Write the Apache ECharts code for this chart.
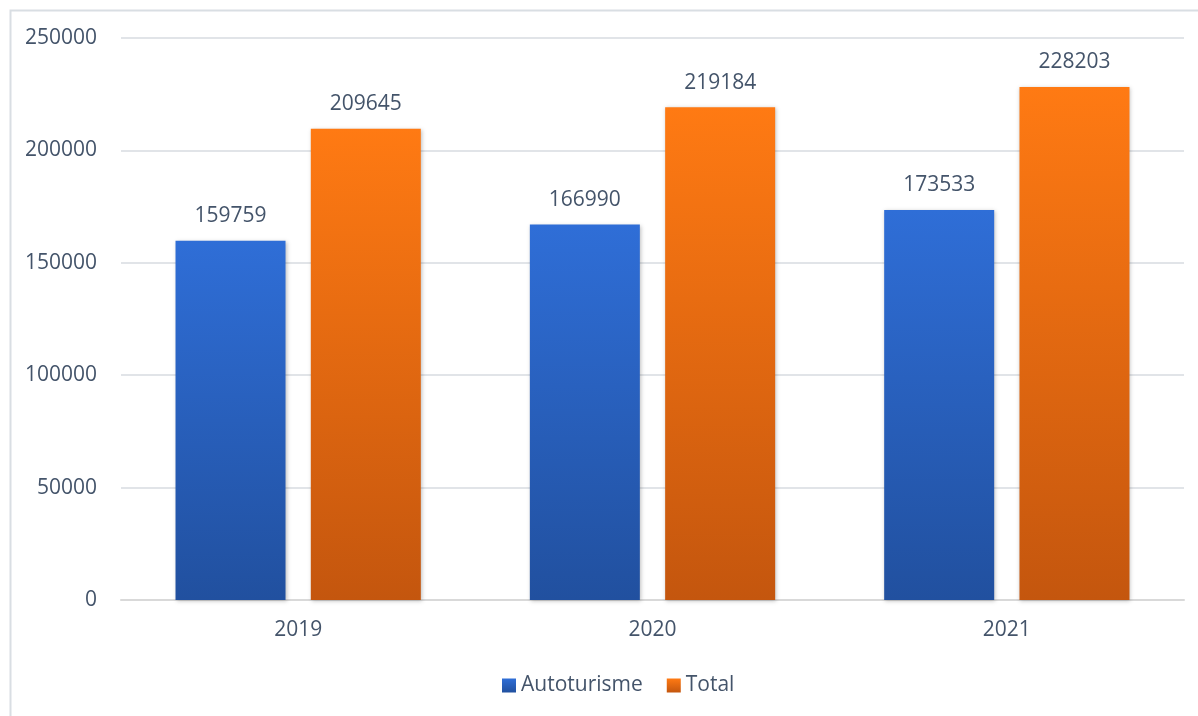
<!DOCTYPE html>
<html><head><meta charset="utf-8">
<script src="https://cdn.jsdelivr.net/npm/echarts@6/dist/echarts.min.js"></script>
<style>html,body{margin:0;padding:0;background:#fff}#c{width:1198px;height:716px}</style>
</head><body><div id="c"></div>
<script>
const categories = ['2019', '2020', '2021'];
const autoturisme = [159759, 166990, 173533];
const total = [209645, 219184, 228203];
const yTicks = [0, 50000, 100000, 150000, 200000, 250000];

const txt = '#44546A';
const font = '"Open Sans", "Noto Sans", sans-serif';
function grad(top, bottom) {
  return new echarts.graphic.LinearGradient(0, 0, 0, 1, [
    { offset: 0, color: top }, { offset: 1, color: bottom }
  ]);
}
const chart = echarts.init(document.getElementById('c'), null, { renderer: 'canvas' });
chart.setOption({
  backgroundColor: '#fff',
  animation: false,
  graphic: [{
    type: 'rect', left: 8, top: 8, z: -10,
    shape: { width: 1200, height: 720 },
    style: { fill: 'none', stroke: '#D9DEE3', lineWidth: 2 }
  }],
  grid: { left: 121, right: 14, top: 38, bottom: 116, containLabel: false },
  legend: {
    bottom: 15, left: 497, itemWidth: 14, itemHeight: 14, itemGap: 24,
    icon: 'rect',
    textStyle: { color: txt, fontSize: 21, fontFamily: font },
    data: ['Autoturisme', 'Total']
  },
  xAxis: {
    type: 'category', data: categories,
    axisLine: { lineStyle: { color: '#D9D9D9', width: 2 } },
    axisTick: { show: false },
    axisLabel: { color: txt, fontSize: 21, fontFamily: font, margin: 20 }
  },
  yAxis: {
    type: 'value', min: yTicks[0], max: yTicks[yTicks.length - 1], interval: 50000,
    axisLine: { show: false }, axisTick: { show: false },
    splitLine: { lineStyle: { color: '#E1E4E8', width: 2 } },
    axisLabel: { color: txt, fontSize: 21, fontFamily: font, margin: 24, formatter: v => String(v) }
  },
  series: [{
    name: 'Autoturisme', type: 'bar', data: autoturisme,
    barWidth: 110, barGap: '23%',
    itemStyle: { color: grad('#2F6ED7', '#21509F'), shadowColor: 'rgba(0,0,0,0.25)', shadowBlur: 4, shadowOffsetX: 1, shadowOffsetY: 1 },
    label: { show: true, position: 'top', distance: 14, color: txt, fontSize: 21, fontFamily: font }
  }, {
    name: 'Total', type: 'bar', data: total,
    barWidth: 110,
    itemStyle: { color: grad('#FF7A13', '#C4560E'), shadowColor: 'rgba(0,0,0,0.25)', shadowBlur: 4, shadowOffsetX: 1, shadowOffsetY: 1 },
    label: { show: true, position: 'top', distance: 14, color: txt, fontSize: 21, fontFamily: font }
  }]
});
</script></body></html>
